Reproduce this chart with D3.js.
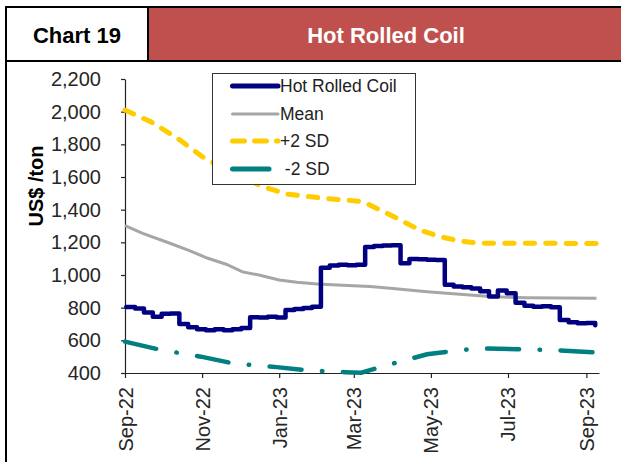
<!DOCTYPE html>
<html>
<head>
<meta charset="utf-8">
<script src="https://cdn.jsdelivr.net/npm/d3@7"></script>
<style>
  body { margin: 0; background: #fff; }
  svg { display: block; font-family: "Liberation Sans", Arial, sans-serif; }
</style>
</head>
<body>
<svg id="chart" width="621" height="462"></svg>
<script>
// Weekly HRC price, US$/ton
var hrcDates = ["2022-09-02","2022-09-09","2022-09-16","2022-09-23","2022-09-30","2022-10-07","2022-10-14","2022-10-21","2022-10-28",
  "2022-11-04","2022-11-11","2022-11-18","2022-11-25","2022-12-02","2022-12-09","2022-12-16","2022-12-23","2022-12-30",
  "2023-01-06","2023-01-13","2023-01-20","2023-01-27","2023-02-03","2023-02-10","2023-02-17","2023-02-24","2023-03-03",
  "2023-03-10","2023-03-17","2023-03-24","2023-03-31","2023-04-07","2023-04-14","2023-04-21","2023-04-28","2023-05-05",
  "2023-05-12","2023-05-19","2023-05-26","2023-06-02","2023-06-09","2023-06-16","2023-06-23","2023-06-30","2023-07-07",
  "2023-07-14","2023-07-21","2023-07-28","2023-08-04","2023-08-11","2023-08-18","2023-08-25","2023-09-01","2023-09-08"];
var hrcValues = [804, 795, 770, 745, 762, 765, 700, 680, 668,
  662, 668, 662, 668, 675, 742, 740, 745, 740,
  785, 792, 798, 806, 1045, 1058, 1062, 1060, 1062,
  1172, 1178, 1180, 1182, 1072, 1098, 1096, 1094, 1092,
  940, 930, 925, 918, 900, 868, 905, 888, 830,
  812, 805, 808, 803, 725, 710, 705, 706, 692];

var meanDates = ["2022-09-01","2022-09-15","2022-10-06","2022-10-22","2022-11-05","2022-11-20","2022-12-03","2022-12-16","2023-01-01",
  "2023-01-15","2023-01-31","2023-02-20","2023-03-14","2023-04-01","2023-04-28","2023-05-24","2023-06-19","2023-07-16","2023-09-09"];
var meanValues = [1302, 1255, 1196, 1149, 1104, 1066, 1019, 1000, 969,
  955, 945, 938, 930, 918, 898, 882, 867, 861, 858];

var upperDates = ["2022-09-01","2022-09-21","2022-10-12","2022-11-01","2022-11-23","2022-12-19","2023-01-07","2023-02-05",
  "2023-03-08","2023-04-01","2023-04-22","2023-05-08","2023-05-24","2023-06-09","2023-09-09"];
var upperValues = [2010, 1940, 1840, 1725, 1630, 1541, 1495, 1470, 1450, 1360, 1276, 1235, 1208, 1195, 1193];

var lowerDates = ["2022-09-01","2022-09-29","2022-10-31","2022-11-26","2022-12-30","2023-01-25","2023-02-22","2023-03-07",
  "2023-03-27","2023-04-28","2023-05-24","2023-06-09","2023-07-11","2023-08-11","2023-09-09"];
var lowerValues = [592, 542, 500, 458, 436, 415, 405, 402, 447, 515, 540, 550, 546, 538, 525];

var yTicks = [400, 600, 800, 1000, 1200, 1400, 1600, 1800, 2000, 2200];
var legendLabels = ["Hot Rolled Coil", "Mean", "+2 SD", " -2 SD"];

var parse = d3.timeParse("%Y-%m-%d");
function pairs(dates, values) {
  return dates.map(function (d, i) { return { date: parse(d), value: values[i] }; });
}

var svg = d3.select("#chart");

// header block
svg.append("rect").attr("x", 149).attr("y", 7).attr("width", 472).attr("height", 53).attr("fill", "#c0504d");
svg.append("line").attr("x1", 5).attr("x2", 621).attr("y1", 7).attr("y2", 7).attr("stroke", "#000").attr("stroke-width", 2);
svg.append("line").attr("x1", 5).attr("x2", 621).attr("y1", 61).attr("y2", 61).attr("stroke", "#000").attr("stroke-width", 2);
svg.append("line").attr("x1", 6).attr("x2", 6).attr("y1", 6).attr("y2", 462).attr("stroke", "#000").attr("stroke-width", 2);
svg.append("line").attr("x1", 148).attr("x2", 148).attr("y1", 7).attr("y2", 61).attr("stroke", "#000").attr("stroke-width", 2);
svg.append("text").attr("x", 77).attr("y", 43).attr("text-anchor", "middle")
  .attr("font-size", 22).attr("font-weight", "bold").attr("fill", "#000").text("Chart 19");
svg.append("text").attr("x", 386).attr("y", 43).attr("text-anchor", "middle")
  .attr("font-size", 22).attr("font-weight", "bold").attr("fill", "#fff").text("Hot Rolled Coil");

var x = d3.scaleTime().domain([parse("2022-09-01"), parse("2023-09-11")]).range([125, 599]);
var y = d3.scaleLinear().domain([400, 2200]).range([373, 79]);

// axes
var yAxis = svg.append("g").attr("transform", "translate(125,0)")
  .call(d3.axisLeft(y).tickValues(yTicks).tickSize(4).tickSizeOuter(0).tickPadding(20).tickFormat(d3.format(",")));
var xAxis = svg.append("g").attr("transform", "translate(0,373)")
  .call(d3.axisBottom(x).ticks(d3.timeMonth.every(2)).tickSize(5).tickSizeOuter(0).tickFormat(d3.timeFormat("%b-%y")));
xAxis.selectAll("text")
  .attr("transform", "rotate(-90)").attr("text-anchor", "end")
  .attr("x", -14).attr("y", 0).attr("dy", "0.35em");
[yAxis, xAxis].forEach(function (a) {
  a.selectAll("path,line").attr("stroke", "#222").attr("stroke-width", 1.2);
  a.selectAll("text").attr("font-size", 20).attr("fill", "#262626").attr("font-family", "'Liberation Sans', Arial, sans-serif");
});

svg.append("text").attr("transform", "translate(43,186) rotate(-90)").attr("text-anchor", "middle")
  .attr("font-size", 20).attr("font-weight", "bold").attr("fill", "#000").text("US$ /ton");

var line = d3.line().x(function (d) { return x(d.date); }).y(function (d) { return y(d.value); });
var stepLine = d3.line().curve(d3.curveStepAfter).x(function (d) { return x(d.date); }).y(function (d) { return y(d.value); });

svg.append("path").datum(pairs(meanDates, meanValues)).attr("d", line)
  .attr("fill", "none").attr("stroke", "#a6a6a6").attr("stroke-width", 3);
svg.append("path").datum(pairs(upperDates, upperValues)).attr("d", line)
  .attr("fill", "none").attr("stroke", "#ffcc00").attr("stroke-width", 5)
  .attr("stroke-linecap", "round").attr("stroke-dasharray", "9.5,11");
svg.append("path").datum(pairs(lowerDates, lowerValues)).attr("d", line)
  .attr("fill", "none").attr("stroke", "#008080").attr("stroke-width", 4.5)
  .attr("stroke-linecap", "round").attr("stroke-dasharray", "32,20.5,0.5,20.5");
svg.append("path").datum(pairs(hrcDates, hrcValues)).attr("d", stepLine)
  .attr("fill", "none").attr("stroke", "#000080").attr("stroke-width", 4.5)
  .attr("stroke-linejoin", "round").attr("stroke-linecap", "round");

// legend
var legend = svg.append("g");
legend.append("rect").attr("x", 212.5).attr("y", 73.5).attr("width", 203).attr("height", 111)
  .attr("fill", "#fff").attr("stroke", "#333").attr("stroke-width", 1);
var styles = [
  { color: "#000080", width: 5, dash: null, x2: 278 },
  { color: "#a6a6a6", width: 3, dash: null, x2: 278 },
  { color: "#ffcc00", width: 5, dash: "12,10", x2: 278 },
  { color: "#008080", width: 5, dash: null, x2: 269 }
];
var rowY = [86, 114, 141, 169];
legendLabels.forEach(function (label, i) {
  var s = styles[i];
  legend.append("line").attr("x1", 232.5).attr("x2", s.x2).attr("y1", rowY[i]).attr("y2", rowY[i])
    .attr("stroke", s.color).attr("stroke-width", s.width).attr("stroke-linecap", "round")
    .attr("stroke-dasharray", s.dash);
  legend.append("text").attr("x", 280).attr("y", rowY[i] + 6).attr("font-size", 17.5).attr("fill", "#222")
    .attr("xml:space", "preserve").style("white-space", "pre").text(label);
});
</script>
</body>
</html>
